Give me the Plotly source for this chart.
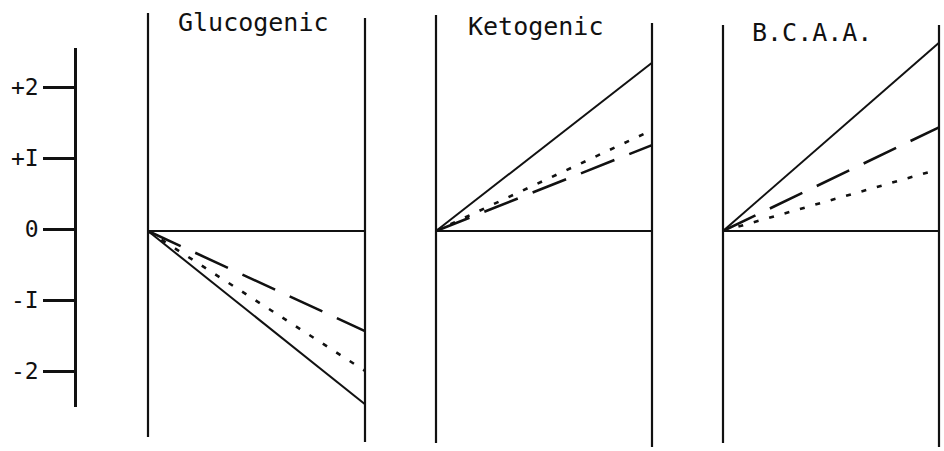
import plotly.graph_objects as go

# data (units of the left-hand scale)
panels = ["Glucogenic", "Ketogenic", "B.C.A.A."]
time = [0, 1]
solid = [[0, -2.44], [0, 2.37], [0, 2.65]]
dashed = [[0, -1.41], [0, 1.21], [0, 1.46]]
dotted = [[0, -1.97], [0, 1.42], [0, 0.87]]
scale_vals = [2, 1, 0, -1, -2]
scale_text = ["+2", "+I", "0", "-I", "-2"]

W, H = 944, 451
UNIT = 71.0   # pixels per unit
ZERO = 231.0  # pixel row of the panel zero line
PAD = 0.02

# panel frames in pixels: left x, right x, (top, bottom) of left line, (top, bottom) of right line
frames = [
    (148, 365, (13, 437), (18, 442)),
    (436, 652, (15, 443), (23, 447)),
    (723, 939, (25, 443), (25, 447)),
]
title_pos = [(253, 22), (535, 27), (812, 33)]

FONT = "DejaVu Sans Mono"
ink = "#111111"

fig = go.Figure()
layout = dict(
    width=W, height=H,
    margin=dict(l=0, r=0, t=0, b=0),
    paper_bgcolor="white", plot_bgcolor="rgba(0,0,0,0)",
    showlegend=False,
    yaxis=dict(range=[(ZERO - H) / UNIT, ZERO / UNIT], domain=[0, 1], visible=False),
)
shapes = []
annotations = []

for i, name in enumerate(panels):
    ax = "x" if i == 0 else f"x{i + 1}"
    key = "xaxis" if i == 0 else f"xaxis{i + 1}"
    xl, xr, lft, rgt = frames[i]
    w = xr - xl
    layout[key] = dict(
        domain=[(xl - PAD * w) / W, (xr + PAD * w) / W],
        range=[-PAD, 1 + PAD], visible=False, anchor="y",
    )
    for series, dash, lw in [(solid, "solid", 2), (dashed, "36px,16px", 2.6), (dotted, "5px,11px", 2.6)]:
        fig.add_trace(go.Scatter(
            x=time, y=series[i], mode="lines", xaxis=ax, yaxis="y",
            line=dict(color=ink, width=lw, dash=dash), name=f"{name} {dash}",
        ))
    # frame verticals and zero line
    for xv, (top, bot) in [(0, lft), (1, rgt)]:
        shapes.append(dict(type="line", xref=ax, yref="paper", x0=xv, x1=xv,
                           y0=1 - top / H, y1=1 - bot / H,
                           line=dict(color=ink, width=2.2)))
    shapes.append(dict(type="line", xref=ax, yref="y", x0=0, x1=1, y0=0, y1=0,
                       line=dict(color=ink, width=2.2)))
    tx, ty = title_pos[i]
    annotations.append(dict(text=name, xref="paper", yref="paper",
                            x=tx / W, y=1 - ty / H, showarrow=False,
                            xanchor="center", yanchor="middle",
                            font=dict(family=FONT, size=25, color=ink)))

# left-hand scale
top_px, bot_px, zero_px = 48, 407, 229
fig.add_trace(go.Scatter(x=[None], y=[None], xaxis="x4", yaxis="y4", showlegend=False))
layout["xaxis4"] = dict(domain=[0, 0.07], visible=False, anchor="y4")
layout["yaxis4"] = dict(
    domain=[1 - bot_px / H, 1 - top_px / H],
    range=[(zero_px - bot_px) / UNIT, (zero_px - top_px) / UNIT],
    anchor="free", position=75 / W, side="left",
    showline=True, linecolor=ink, linewidth=2.6,
    ticks="outside", ticklen=31, tickwidth=2.6, tickcolor=ink,
    tickvals=scale_vals, ticktext=scale_text,
    tickfont=dict(family=FONT, size=23, color=ink),
    showgrid=False, zeroline=False,
)

layout["shapes"] = shapes
layout["annotations"] = annotations
fig.update_layout(**layout)
# page body has a default 8px margin; drop it so the figure fills the window
fig.write_html("out.html", config={"displayModeBar": False},
               post_script="document.body.style.margin='0';")
